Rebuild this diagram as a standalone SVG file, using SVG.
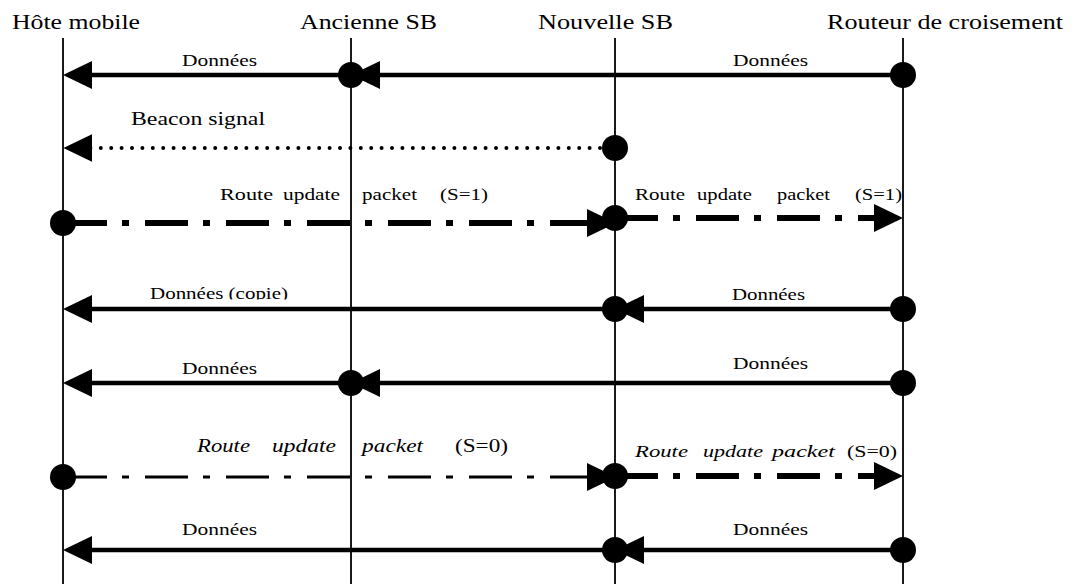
<svg xmlns="http://www.w3.org/2000/svg" width="1077" height="584" viewBox="0 0 1077 584">
  <style>
    text { font-family: "Liberation Serif", "Times New Roman", serif; fill: #000; }
    .hdr { font-size: 21.5px; }
    .lbl { font-size: 17.5px; }
    .lblL { font-size: 19px; }
    .it { font-style: italic; }
    .life { stroke: #000; stroke-width: 1.8; fill: none; }
    .data { stroke: #000; stroke-width: 4.6; fill: none; marker-end: url(#ah); }
    .beacon { stroke: #000; stroke-width: 4; stroke-linecap: round; stroke-dasharray: 0 10.4; fill: none; marker-end: url(#ah); }
    .upd { stroke: #000; stroke-width: 6; stroke-dasharray: 43 15 7 16; fill: none; marker-end: url(#ah); }
    .updThin { stroke: #000; stroke-width: 3.2; stroke-dasharray: 43 15 7 16; fill: none; marker-end: url(#ah); }
    .dot { fill: #000; }
  </style>
  <defs>
    <marker id="ah" markerUnits="userSpaceOnUse" viewBox="0 0 29 28" markerWidth="29" markerHeight="28" refX="2" refY="14" orient="auto">
      <path d="M0,0 L29,14 L0,28 Z" fill="#000"/>
    </marker>
    <clipPath id="cutCopie">
      <rect x="100" y="270" width="250" height="29.5"/>
    </clipPath>
  </defs>
  <rect width="1077" height="584" fill="#fff"/>

  <!-- participants with their lifelines -->
  <g id="hote-mobile">
    <text class="hdr" x="12" y="29" textLength="128" lengthAdjust="spacingAndGlyphs">Hôte mobile</text>
    <line class="life" x1="63" y1="38" x2="63" y2="584"/>
  </g>
  <g id="ancienne-sb">
    <text class="hdr" x="300" y="29" textLength="137" lengthAdjust="spacingAndGlyphs">Ancienne SB</text>
    <line class="life" x1="351" y1="38" x2="351" y2="584"/>
  </g>
  <g id="nouvelle-sb">
    <text class="hdr" x="538" y="29" textLength="135" lengthAdjust="spacingAndGlyphs">Nouvelle SB</text>
    <line class="life" x1="615" y1="38" x2="615" y2="584"/>
  </g>
  <g id="routeur-croisement">
    <text class="hdr" x="827" y="29" textLength="236" lengthAdjust="spacingAndGlyphs">Routeur de croisement</text>
    <line class="life" x1="903" y1="38" x2="903" y2="584"/>
  </g>

  <!-- messages -->
  <g id="connectors">
    <!-- 1: data via old base station -->
    <g id="msg1">
      <line class="data" x1="903" y1="75" x2="378" y2="75"/>
      <line class="data" x1="351" y1="75" x2="90" y2="75"/>
      <circle class="dot" cx="351" cy="75" r="13"/>
      <circle class="dot" cx="903" cy="75" r="13"/>
      <text class="lbl" x="182" y="66" textLength="75" lengthAdjust="spacingAndGlyphs">Données</text>
      <text class="lbl" x="733" y="66" textLength="75" lengthAdjust="spacingAndGlyphs">Données</text>
    </g>
    <!-- 2: beacon from new base station -->
    <g id="msg2">
      <line class="beacon" x1="600" y1="148" x2="90.4" y2="148"/>
      <circle class="dot" cx="615" cy="148" r="13"/>
      <text class="lblL" x="131" y="125" textLength="134" lengthAdjust="spacingAndGlyphs">Beacon signal</text>
    </g>
    <!-- 3: route update packet, S=1 -->
    <g id="msg3">
      <line class="upd" x1="64" y1="223" x2="589" y2="223"/>
      <line class="upd" x1="615" y1="218" x2="876" y2="218"/>
      <circle class="dot" cx="63" cy="223" r="13"/>
      <circle class="dot" cx="615" cy="218" r="13"/>
      <text class="lbl" x="220" y="200" textLength="53" lengthAdjust="spacingAndGlyphs">Route</text>
      <text class="lbl" x="283" y="200" textLength="57" lengthAdjust="spacingAndGlyphs">update</text>
      <text class="lbl" x="362" y="200" textLength="55" lengthAdjust="spacingAndGlyphs">packet</text>
      <text class="lbl" x="440" y="200" textLength="48" lengthAdjust="spacingAndGlyphs">(S=1)</text>
      <text class="lbl" x="635" y="200" textLength="50" lengthAdjust="spacingAndGlyphs">Route</text>
      <text class="lbl" x="697" y="200" textLength="55" lengthAdjust="spacingAndGlyphs">update</text>
      <text class="lbl" x="777" y="200" textLength="53" lengthAdjust="spacingAndGlyphs">packet</text>
      <text class="lbl" x="855" y="200" textLength="47" lengthAdjust="spacingAndGlyphs">(S=1)</text>
    </g>
    <!-- 4: data duplicated through new base station -->
    <g id="msg4">
      <line class="data" x1="903" y1="309" x2="642" y2="309"/>
      <line class="data" x1="615" y1="309" x2="90" y2="309"/>
      <circle class="dot" cx="615" cy="309" r="13"/>
      <circle class="dot" cx="903" cy="309" r="13"/>
      <text class="lbl" x="150" y="298.5" textLength="138" lengthAdjust="spacingAndGlyphs" clip-path="url(#cutCopie)">Données (copie)</text>
      <text class="lbl" x="732" y="300" textLength="73" lengthAdjust="spacingAndGlyphs">Données</text>
    </g>
    <!-- 5: data via old base station -->
    <g id="msg5">
      <line class="data" x1="903" y1="383" x2="378" y2="383"/>
      <line class="data" x1="351" y1="383" x2="90" y2="383"/>
      <circle class="dot" cx="351" cy="383" r="13"/>
      <circle class="dot" cx="903" cy="383" r="13"/>
      <text class="lbl" x="182" y="374" textLength="75" lengthAdjust="spacingAndGlyphs">Données</text>
      <text class="lbl" x="733" y="369" textLength="75" lengthAdjust="spacingAndGlyphs">Données</text>
    </g>
    <!-- 6: route update packet, S=0 -->
    <g id="msg6">
      <line class="updThin" x1="64" y1="477" x2="589" y2="477"/>
      <line class="upd" x1="615" y1="476" x2="876" y2="476"/>
      <circle class="dot" cx="63" cy="477" r="13"/>
      <circle class="dot" cx="615" cy="476" r="13"/>
      <text class="lblL it" x="197" y="452" textLength="53" lengthAdjust="spacingAndGlyphs">Route</text>
      <text class="lblL it" x="272" y="452" textLength="64" lengthAdjust="spacingAndGlyphs">update</text>
      <text class="lblL it" x="362" y="452" textLength="61" lengthAdjust="spacingAndGlyphs">packet</text>
      <text class="lblL" x="455" y="452" textLength="53" lengthAdjust="spacingAndGlyphs">(S=0)</text>
      <text class="lbl it" x="635" y="457" textLength="53" lengthAdjust="spacingAndGlyphs">Route</text>
      <text class="lbl it" x="703" y="457" textLength="60" lengthAdjust="spacingAndGlyphs">update</text>
      <text class="lbl it" x="772" y="457" textLength="63" lengthAdjust="spacingAndGlyphs">packet</text>
      <text class="lbl" x="847" y="457" textLength="50" lengthAdjust="spacingAndGlyphs">(S=0)</text>
    </g>
    <!-- 7: data via new base station -->
    <g id="msg7">
      <line class="data" x1="903" y1="550" x2="642" y2="550"/>
      <line class="data" x1="615" y1="550" x2="90" y2="550"/>
      <circle class="dot" cx="615" cy="550" r="13"/>
      <circle class="dot" cx="903" cy="550" r="13"/>
      <text class="lbl" x="182" y="535" textLength="75" lengthAdjust="spacingAndGlyphs">Données</text>
      <text class="lbl" x="733" y="535" textLength="75" lengthAdjust="spacingAndGlyphs">Données</text>
    </g>
  </g>
</svg>
